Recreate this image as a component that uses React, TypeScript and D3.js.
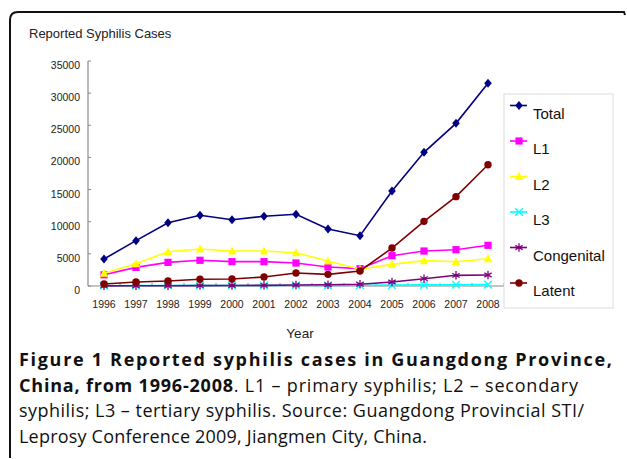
import React from "react";
import * as d3 from "d3";

const years = ["1996","1997","1998","1999","2000","2001","2002","2003","2004","2005","2006","2007","2008"];
const total = [4200, 7050, 9850, 11000, 10300, 10850, 11150, 8860, 7830, 14780, 20800, 25300, 31530];
const l1 = [1740, 2900, 3680, 4000, 3790, 3790, 3580, 2950, 2700, 4720, 5440, 5650, 6330];
const l2 = [1970, 3470, 5340, 5760, 5440, 5440, 5180, 3890, 2600, 3370, 3940, 3780, 4250];
const l3 = [50, 60, 70, 90, 80, 90, 110, 100, 120, 140, 170, 200, 210];
const congenital = [20, 30, 40, 60, 80, 100, 150, 200, 280, 620, 1140, 1660, 1710];
const latent = [310, 620, 780, 1040, 1090, 1400, 2020, 1810, 2330, 5900, 10060, 13900, 18870];
const yTicks = [0, 5000, 10000, 15000, 20000, 25000, 30000, 35000];

const seriesNames = ["Total", "L1", "L2", "L3", "Congenital", "Latent"];
const seriesValues = [total, l1, l2, l3, congenital, latent];
const seriesColors = ["#000080", "#FF00FF", "#FFFF00", "#00FFFF", "#800080", "#800000"];
const seriesMarkers = ["diamond", "square", "triangle", "x", "asterisk", "circle"];

const FONT = "Arial, 'Liberation Sans', sans-serif";
const CAP = "'Open Sans', 'Noto Sans', sans-serif";

function Marker({ kind, x, y, color }: { kind: string; x: number; y: number; color: string }) {
  const t = `translate(${x},${y})`;
  if (kind === "diamond") {
    return <path transform={t} d="M0,-4.5L3.8,0L0,4.5L-3.8,0Z" fill={color} />;
  }
  if (kind === "square") {
    return <rect x={x - 3.6} y={y - 3.6} width={7.2} height={7.2} fill={color} />;
  }
  if (kind === "triangle") {
    return <path transform={t} d="M0,-4.5L4.3,3.5L-4.3,3.5Z" fill={color} />;
  }
  if (kind === "circle") {
    return <circle cx={x} cy={y} r={3.7} fill={color} />;
  }
  if (kind === "x") {
    return <path transform={t} d={d3.symbol(d3.symbolTimes, 40)() as string} stroke={color} strokeWidth={1.3} fill="none" />;
  }
  return <path transform={t} d={d3.symbol(d3.symbolAsterisk, 50)() as string} stroke={color} strokeWidth={1.3} fill="none" />;
}

export default function App() {
  const x = d3.scaleBand<string>().domain(years).range([88, 504]).padding(0);
  const y = d3.scaleLinear().domain([0, 35000]).range([286, 61]);
  const cx = (yr: string) => (x(yr) as number) + x.bandwidth() / 2;
  const line = d3.line<number>().x((_, i) => cx(years[i])).y((v) => y(v));
  const axisColor = "#8a8a8a";
  const legendX = 504;
  const legendTop = 94;
  const legendStep = 35.5;

  return (
    <div style={{ position: "absolute", left: 0, top: 0 }}>
      <svg width={627} height={459} style={{ display: "block", background: "#fff" }}>
        {/* frame */}
        <path d="M10,458 L10,20 Q10,12 18,12 L624,12 L625,15" fill="none" stroke="#111" strokeWidth={2} />

        <text x={29} y={38} fontFamily={FONT} fontSize={13} fill="#222">Reported Syphilis Cases</text>

        {/* y axis */}
        <line x1={88} x2={88} y1={y(35000)} y2={y(0)} stroke={axisColor} strokeWidth={1.2} />
        {yTicks.map((t) => (
          <g key={t}>
            <line x1={88} x2={91} y1={y(t)} y2={y(t)} stroke={axisColor} strokeWidth={1} />
            <text x={80} y={y(t) + 8} textAnchor="end" fontFamily={FONT} fontSize={10.5} fill="#222">{t}</text>
          </g>
        ))}

        {/* x axis */}
        <line x1={88} x2={504} y1={y(0)} y2={y(0)} stroke={axisColor} strokeWidth={1.2} />
        {years.map((yr) => (
          <g key={yr}>
            <line x1={(x(yr) as number) + x.bandwidth()} x2={(x(yr) as number) + x.bandwidth()} y1={y(0)} y2={y(0) - 3} stroke={axisColor} strokeWidth={1} />
            <text x={cx(yr)} y={308} textAnchor="middle" fontFamily={FONT} fontSize={10.5} fill="#222">{yr}</text>
          </g>
        ))}
        <text x={300} y={338} textAnchor="middle" fontFamily={FONT} fontSize={13.5} fill="#222">Year</text>

        {/* series */}
        {seriesValues.map((vals, s) => (
          <g key={seriesNames[s]}>
            <path d={line(vals) as string} fill="none" stroke={seriesColors[s]} strokeWidth={1.6} />
            {vals.map((v, i) => (
              <Marker key={i} kind={seriesMarkers[s]} x={cx(years[i])} y={y(v)} color={seriesColors[s]} />
            ))}
          </g>
        ))}

        {/* legend */}
        <rect x={legendX} y={legendTop} width={109} height={214} fill="#fff" stroke="#dcdcdc" strokeWidth={1} />
        {seriesNames.map((n, s) => {
          const ly = 105.5 + s * legendStep;
          return (
            <g key={n}>
              <line x1={510} x2={527} y1={ly} y2={ly} stroke={seriesColors[s]} strokeWidth={1.6} />
              <Marker kind={seriesMarkers[s]} x={519} y={ly} color={seriesColors[s]} />
              <text x={533} y={ly + 13} fontFamily={FONT} fontSize={15} fill="#111">{n}</text>
            </g>
          );
        })}

        {/* caption */}
        <text x={19} y={366} fontFamily={CAP} fontSize={18} fontWeight="bold" fill="#111" textLength={593} lengthAdjust="spacing">
          Figure 1 Reported syphilis cases in Guangdong Province,
        </text>
        <text x={19} y={392} fontFamily={CAP} fontSize={18} fill="#111" textLength={559} lengthAdjust="spacing">
          <tspan fontWeight="bold">China, from 1996-2008</tspan>
          <tspan>. L1 – primary syphilis; L2 – secondary</tspan>
        </text>
        <text x={19} y={417} fontFamily={CAP} fontSize={18} fill="#111" textLength={565} lengthAdjust="spacing">
          syphilis; L3 – tertiary syphilis. Source: Guangdong Provincial STI/
        </text>
        <text x={19} y={443} fontFamily={CAP} fontSize={18} fill="#111" textLength={408} lengthAdjust="spacing">
          Leprosy Conference 2009, Jiangmen City, China.
        </text>
      </svg>
    </div>
  );
}
